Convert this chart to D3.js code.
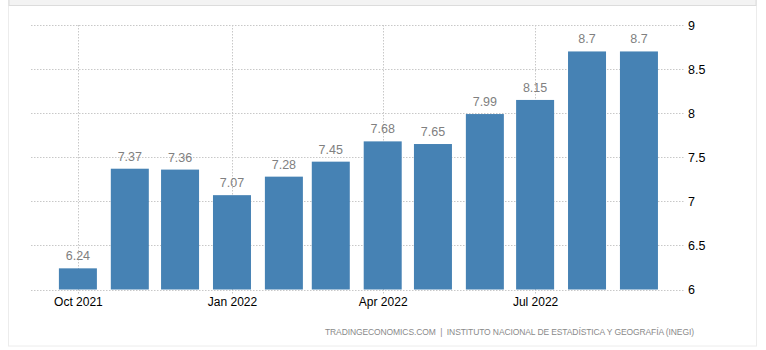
<!DOCTYPE html>
<html>
<head>
<meta charset="utf-8">
<script src="https://cdn.jsdelivr.net/npm/d3@7"></script>
<style>
  html, body { margin: 0; padding: 0; background: #fff; }
  svg { display: block; }
</style>
</head>
<body>
<script>
// Monthly series
const months = ["2021-10", "2021-11", "2021-12", "2022-01", "2022-02", "2022-03",
                "2022-04", "2022-05", "2022-06", "2022-07", "2022-08", "2022-09"];
const values = [6.24, 7.37, 7.36, 7.07, 7.28, 7.45, 7.68, 7.65, 7.99, 8.15, 8.7, 8.7];
const yTicks = [6, 6.5, 7, 7.5, 8, 8.5, 9];
const xTickMonths = ["2021-10", "2022-01", "2022-04", "2022-07"];
const sourceText = "TRADINGECONOMICS.COM  |  INSTITUTO NACIONAL DE ESTADÍSTICA Y GEOGRAFÍA (INEGI)";

const W = 766, H = 350;
const parse = d3.timeParse("%Y-%m");
const data = months.map((m, i) => ({ date: parse(m), value: values[i] }));

const svg = d3.select("body").append("svg").attr("width", W).attr("height", H);

// Panel frame and top strip
svg.append("rect").attr("x", 8.5).attr("y", -1).attr("width", 748).attr("height", 347)
  .attr("fill", "#fff").attr("stroke", "#ececec");
svg.append("rect").attr("x", 9).attr("y", -1).attr("width", 747).attr("height", 6.5)
  .attr("fill", "#f3f3f3").attr("stroke", "#dcdcdc");

const plotLeft = 31, plotRight = 685, plotTop = 25, plotBottom = 289.5;

const x = d3.scaleTime()
  .domain([new Date(2021, 8, 3), new Date(2022, 8, 28, 12)])
  .range([plotLeft, plotRight]);
const y = d3.scaleLinear().domain([6, 9]).range([plotBottom, plotTop]);

const barW = 38;
const font = "'Liberation Sans', Arial, sans-serif";

// Horizontal grid
svg.append("g").selectAll("line").data(yTicks).join("line")
  .attr("x1", plotLeft).attr("x2", plotRight)
  .attr("y1", d => Math.round(y(d)) + 0.5).attr("y2", d => Math.round(y(d)) + 0.5)
  .attr("stroke", "#c8c8c8").attr("stroke-dasharray", "1.5,1.5");

// Vertical grid at quarter ticks
const xTicks = xTickMonths.map(parse);
svg.append("g").selectAll("line").data(xTicks).join("line")
  .attr("x1", d => Math.round(x(d)) + 0.5).attr("x2", d => Math.round(x(d)) + 0.5)
  .attr("y1", plotTop).attr("y2", plotBottom + 4)
  .attr("stroke", "#c8c8c8").attr("stroke-dasharray", "1.5,1.5");

// Bars
svg.append("g").selectAll("rect").data(data).join("rect")
  .attr("x", d => x(d.date) - barW / 2)
  .attr("width", barW)
  .attr("y", d => y(d.value))
  .attr("height", d => y(6) - y(d.value))
  .attr("fill", "#4682b4");

// Value labels
svg.append("g").selectAll("text").data(data).join("text")
  .attr("x", d => x(d.date))
  .attr("y", d => y(d.value) - 8)
  .attr("text-anchor", "middle")
  .attr("font-family", font).attr("font-size", 12.5)
  .attr("fill", "#808080")
  .text(d => d3.format("")(d.value));

// Right value axis
const yAxis = d3.axisRight(y).tickValues(yTicks).tickSize(0).tickPadding(0)
  .tickFormat(d3.format(""));
svg.append("g").attr("transform", `translate(${plotRight + 3},0)`).call(yAxis)
  .call(g => g.select(".domain").remove())
  .call(g => g.selectAll("text").attr("font-family", font).attr("font-size", 12.5)
    .attr("fill", "#000").attr("dy", "0.35em"));

// Bottom time axis
const xAxis = d3.axisBottom(x).tickValues(xTicks).tickSize(0).tickPadding(0)
  .tickFormat(d3.timeFormat("%b %Y"));
svg.append("g").attr("transform", `translate(0,${plotBottom + 16})`).call(xAxis)
  .call(g => g.select(".domain").remove())
  .call(g => g.selectAll("text").attr("font-family", font).attr("font-size", 12)
    .attr("fill", "#000").attr("dy", 0));

// Source line
svg.append("text")
  .attr("x", 325).attr("y", 334.5)
  .attr("font-family", font).attr("font-size", 8.5)
  .attr("textLength", 369).attr("lengthAdjust", "spacing")
  .attr("fill", "#8a8a8a")
  .style("white-space", "pre")
  .text(sourceText);
</script>
</body>
</html>
